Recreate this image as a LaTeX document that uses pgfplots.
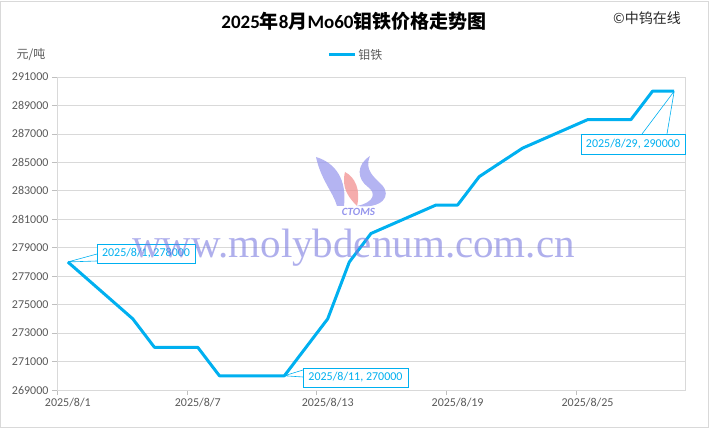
\documentclass[border=0pt]{standalone}
\usepackage{fontspec}
\setmainfont{Carlito}
\newfontfamily\cjk{Noto Sans CJK SC}
\newfontfamily\wmfont{Liberation Serif}
\usepackage{pgfplots}
\pgfplotsset{compat=1.18}
\definecolor{lineblue}{HTML}{00B0F0}
\definecolor{gridgray}{HTML}{D9D9D9}
\definecolor{axgray}{HTML}{BFBFBF}
\definecolor{labgray}{HTML}{595959}
\definecolor{wm}{HTML}{7A7AE0}
\definecolor{logolav}{HTML}{9494EC}
\definecolor{logopink}{HTML}{F29090}

\begin{document}
\begin{tikzpicture}[px/.style={shift={(0bp,429bp)},x=1bp,y=-1bp}]
\path[use as bounding box] (0bp,0bp) rectangle (710bp,429bp);
\draw[gridgray, line width=0.75bp] (0.5bp,2bp) rectangle (708bp,428bp);

\begin{axis}[
  at={(57bp,39bp)}, anchor=south west, scale only axis,
  width=628bp, height=313bp,
  xmin=0.5, xmax=29.5, ymin=269000, ymax=291000,
  ytick={269000,271000,273000,275000,277000,279000,281000,283000,285000,287000,289000,291000},
  yticklabels={269000,271000,273000,275000,277000,279000,281000,283000,285000,287000,289000,291000},
  xtick={0.5,6.5,12.5,18.5,24.5},
  xticklabels={2025/8/1,2025/8/7,2025/8/13,2025/8/19,2025/8/25},
  xticklabel style={xshift=10.83bp},
  scaled y ticks=false, scaled x ticks=false,
  tick label style={font=\fontsize{12bp}{14bp}\selectfont, text=labgray},
  tick align=outside, tick pos=left, major tick length=5bp,
  tick style={draw=axgray, line width=0.75bp},
  axis line style={draw=gridgray, line width=0.75bp},
  ymajorgrids, grid style={draw=gridgray, line width=0.75bp},
  legend style={at={(0.476,1.0703)}, anchor=center, draw=none, fill=none,
    font=\fontsize{12bp}{14bp}\selectfont, text=labgray, inner sep=0pt},
  legend image code/.code={\draw[#1] (0bp,0bp) -- (26bp,0bp);},
]
\addplot[lineblue, line width=3bp, line join=round] coordinates {
(1,278000) (4,274000) (5,272000) (6,272000) (7,272000) (8,270000)
(11,270000) (12,272000) (13,274000) (14,278000) (15,280000)
(18,282000) (19,282000) (20,284000) (21,285000) (22,286000)
(25,288000) (26,288000) (27,288000) (28,290000) (29,290000)
};
\addlegendentry{\cjk 钼铁}
\coordinate (pA) at (axis cs:1,278000);
\coordinate (pB) at (axis cs:11,270000);
\coordinate (pC) at (axis cs:29,290000);
\end{axis}

\begin{scope}[px]
% titles
\node[font=\fontsize{19bp}{21bp}\selectfont\bfseries] at (354,21)
  {2025{\cjk\bfseries 年}8{\cjk\bfseries 月}Mo60{\cjk\bfseries 钼铁价格走势图}};
\node[font=\fontsize{14bp}{16bp}\selectfont\cjk, text=black!85] at (647,18) {©中钨在线};
\node[font=\fontsize{12bp}{14bp}\selectfont\cjk, text=labgray] at (31,55) {元/吨};

% data label callouts
\draw[lineblue, line width=0.6bp] (pA) -- (97,254) (pA) -- (97,261);
\node[draw=lineblue, line width=0.75bp, fill=white, text=lineblue, inner sep=0pt,
  minimum width=98bp, minimum height=19bp, font=\fontsize{12bp}{14bp}\selectfont]
  at (146,253.5) {2025/8/1, 278000};
\draw[lineblue, line width=0.6bp] (pB) -- (303,370) (pB) -- (303,377);
\node[draw=lineblue, line width=0.75bp, fill=white, text=lineblue, inner sep=0pt,
  minimum width=105bp, minimum height=19bp, font=\fontsize{12bp}{14bp}\selectfont]
  at (355.5,377.5) {2025/8/11, 270000};
\draw[lineblue, line width=0.6bp] (pC) -- (642,134) (pC) -- (667,134);
\node[draw=lineblue, line width=0.75bp, fill=white, text=lineblue, inner sep=0pt,
  minimum width=104bp, minimum height=20bp, font=\fontsize{12bp}{14bp}\selectfont]
  at (633,144) {2025/8/29, 290000};

% logo
\fill[logolav, opacity=0.7] (316,157) .. controls (336,163) and (347,180) .. (344,206)
  -- (337,206) .. controls (333,192) and (321,180) .. (316,157) -- cycle;
\fill[logopink, opacity=0.75] (345,172) .. controls (355,177) and (361,190) .. (357,206)
  .. controls (349,198) and (341,188) .. (345,172) -- cycle;
\fill[logolav, opacity=0.7] (370,156) .. controls (356,165) and (357,179) .. (368,187)
  .. controls (376,193) and (375,202) .. (357,206)
  .. controls (382,209) and (392,196) .. (382,185)
  .. controls (374,177) and (364,170) .. (370,156) -- cycle;
\node[font=\fontsize{11bp}{12bp}\selectfont\bfseries\itshape, text=logolav] at (358.5,212) {CTOMS};

% watermark
\node[anchor=base, font=\fontsize{41bp}{44bp}\selectfont\wmfont, text=wm, opacity=0.6]
  at (353.5,258) {www.molybdenum.com.cn};
\end{scope}
\end{tikzpicture}
\end{document}
